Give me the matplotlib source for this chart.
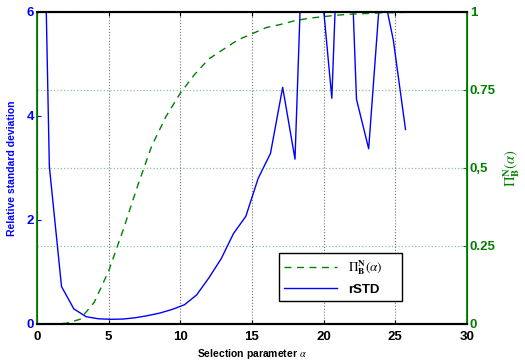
import matplotlib
matplotlib.use("Agg")
import matplotlib.pyplot as plt

# rSTD samples (alpha on a 30/35 grid)
alpha_rstd = [0.0, 0.86, 1.71, 2.57, 3.43, 4.29, 5.14, 6.0, 6.86, 7.71, 8.57,
              9.43, 10.29, 11.14, 12.0, 12.86, 13.71, 14.57, 15.43, 16.29, 17.14,
              18.0, 18.86, 19.71, 20.57, 21.43, 22.29, 23.14, 24.0, 24.86, 25.71]
rstd = [15.0, 3.03, 0.72, 0.29, 0.14, 0.10, 0.09, 0.095, 0.12, 0.16, 0.21,
        0.28, 0.37, 0.56, 0.89, 1.26, 1.74, 2.07, 2.80, 3.28, 4.55,
        3.17, 10.1, 6.9, 4.34, 10.7, 4.32, 3.37, 6.6, 5.46, 3.74]

# Pi_B^N(alpha)
alpha_pi = list(range(0, 31))
pi_bn = [0.0, 0.0, 0.002, 0.015, 0.07, 0.17, 0.30, 0.44, 0.57, 0.665, 0.74,
         0.80, 0.85, 0.88, 0.91, 0.93, 0.95, 0.96, 0.972, 0.98, 0.985,
         0.99, 0.993, 0.995, 0.997, 0.998, 0.999, 1.0, 1.0, 1.0, 1.0]

x_ticks = [0, 5, 10, 15, 20, 25, 30]
left_ticks = [0, 2, 4, 6]
right_ticks = [0, 0.25, 0.5, 0.75, 1]
right_labels = ["0", "0.25", "0,5", "0.75", "1"]

blue = (0, 0, 1)
green = (0, 0.5, 0)

plt.rcParams["font.family"] = ["Liberation Sans", "DejaVu Sans"]
plt.rcParams["mathtext.fontset"] = "stix"

fig = plt.figure(figsize=(5.25, 3.62), dpi=100)
ax1 = fig.add_axes([0.0705, 0.105, 0.819, 0.862])
ax2 = ax1.twinx()

l1, = ax1.plot(alpha_rstd, rstd, color=blue, lw=1.0, label="rSTD")
l2, = ax2.plot(alpha_pi, pi_bn, color=green, lw=1.0, ls=(0, (5, 4)),
               label=r"$\Pi^{\mathbf{N}}_{\mathbf{B}}(\alpha)$")

ax1.set_xlim(0, 30)
ax1.set_ylim(0, 6)
ax2.set_ylim(0, 1)

ax1.set_xticks(x_ticks)
ax1.set_yticks(left_ticks)
ax2.set_yticks(right_ticks)
ax2.set_yticklabels(right_labels)

ax1.grid(axis="x", color="0.45", ls=":", lw=0.8)
ax2.grid(axis="y", color=green, alpha=0.45, ls=":", lw=0.9)

ax1.tick_params(axis="x", direction="in", length=3, top=True, labelsize=9.5,
                pad=5)
ax1.tick_params(axis="y", direction="in", length=3, colors=blue, labelsize=9.5,
                pad=2)
ax2.tick_params(axis="y", direction="in", length=3, colors=green, labelsize=9.5,
                pad=2)
for lab in ax1.get_xticklabels() + ax1.get_yticklabels() + ax2.get_yticklabels():
    lab.set_fontweight("bold")

for s in ["top", "bottom"]:
    ax1.spines[s].set_linewidth(1.5)
    ax2.spines[s].set_linewidth(1.5)
ax2.spines["left"].set_color(green)
ax2.spines["left"].set_linewidth(1.3)
ax2.spines["right"].set_color(green)
ax2.spines["right"].set_linewidth(1.3)

ax1.set_xlabel(r"Selection parameter $\alpha$", fontsize=7.5, fontweight="bold",
               labelpad=3)
ax1.set_ylabel("Relative standard deviation", fontsize=7.5, fontweight="bold",
               color=blue, labelpad=7)
ax2.set_ylabel(r"$\Pi^{\mathbf{N}}_{\mathbf{B}}(\alpha)$", fontsize=10.5,
               color=green, labelpad=4)

leg = ax2.legend([l2, l1], [l2.get_label(), "rSTD"], loc="lower left",
                 bbox_to_anchor=(0.563, 0.074, 0.286, 0.174), mode="expand",
                 fancybox=False, framealpha=1, edgecolor="black",
                 fontsize=9.5, handlelength=4, borderaxespad=0)
leg.get_frame().set_linewidth(1.0)
for t in leg.get_texts():
    t.set_fontweight("bold")

fig.savefig("out.png", dpi=100)
plt.close(fig)
